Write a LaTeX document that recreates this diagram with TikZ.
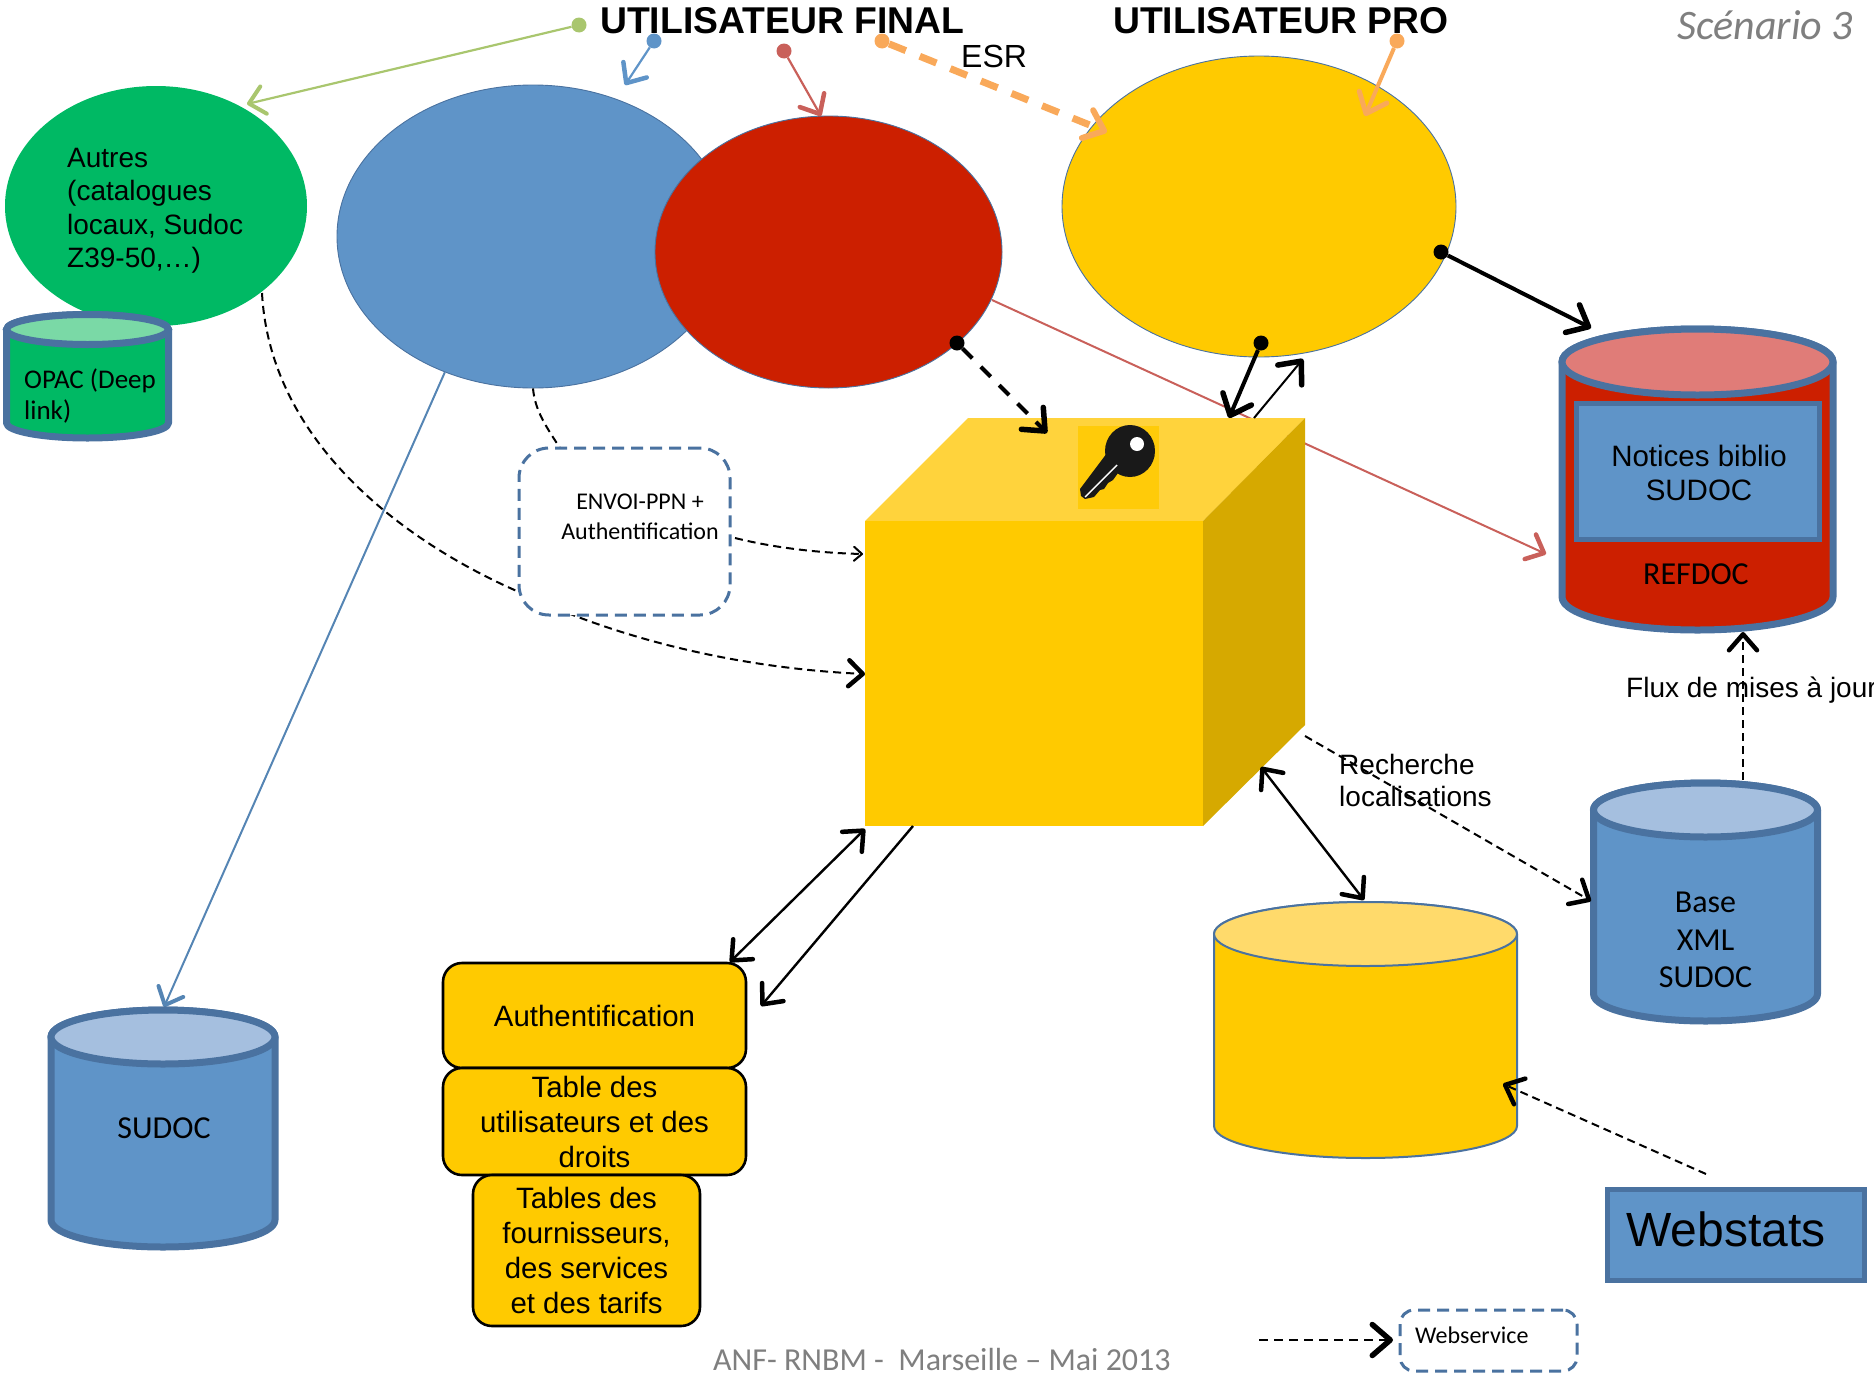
\documentclass[tikz,border=0pt]{standalone}
\usepackage{fontspec}
\setmainfont{Liberation Sans}
\newfontfamily\carl{Carlito}
\usetikzlibrary{arrows.meta,shapes.geometric}
\definecolor{cBlue}{HTML}{5F94C8}
\definecolor{cBlueD}{HTML}{4A72A0}
\definecolor{cBlueL}{HTML}{A5BFDF}
\definecolor{cRed}{HTML}{CC1F00}
\definecolor{cRedL}{HTML}{E07C78}
\definecolor{cLine}{HTML}{C9605A}
\definecolor{cGreen}{HTML}{00B964}
\definecolor{cGreenL}{HTML}{7AD9A6}
\definecolor{cGreenA}{HTML}{A9C66E}
\definecolor{cYel}{HTML}{FFCA00}
\definecolor{cYelL}{HTML}{FFD33C}
\definecolor{cYelT}{HTML}{FFDA6B}
\definecolor{cYelD}{HTML}{D6A900}
\definecolor{cOr}{HTML}{F9A95A}
\definecolor{cGrey}{HTML}{7F7F7F}
\newcommand{\fs}[2]{\fontsize{#1}{#2}\selectfont}
% name, cx, top, bottom, rx, line width, line colour, fill, ry
\newcommand{\dbcyl}[9]{%
  \path[draw=#7,fill=#8,line width=#6pt,line join=round]
    (#2-#5,#3+#9) -- (#2-#5,#4-#9) arc[start angle=180,end angle=0,x radius=#5,y radius=#9]
    -- (#2+#5,#3+#9) arc[start angle=0,end angle=-180,x radius=#5,y radius=#9] -- cycle;
  \node[minimum width=2*#5pt,minimum height=#4pt-#3pt,inner sep=0pt] (#1) at (#2,{(#3+#4)/2}) {};
}
\newcommand{\dbtop}[9]{%
  \path[draw=#7,fill=#8,line width=#6pt] (#2,#3+#9) ellipse[x radius=#5,y radius=#9];
}
\tikzset{
  x=1pt,y=-1pt,
  tipfat/.tip={Straight Barb[length=18pt,width=31pt,line width=5.5pt,round]},
  tipmid/.tip={Straight Barb[length=16pt,width=28pt,line width=4.5pt,round]},
  oval/.style={ellipse,inner sep=0pt,draw=cBlueD,line width=0.9pt},
  dot/.style={circle,inner sep=0pt,minimum size=15pt,fill=#1},
  box/.style={rectangle,inner sep=0pt,line width=2.6pt,draw=black,fill=cYel,rounded corners=19pt,align=center,font=\fs{29.4}{35}},
  dbox/.style={rectangle,inner sep=0pt,line width=3pt,draw=cBlueD,fill=white,dash pattern=on 12pt off 7pt},
  thindash/.style={draw=black,line width=2pt,dash pattern=on 8pt off 5pt},
  lbl/.style={inner sep=0pt,align=left,anchor=west},
  clbl/.style={inner sep=0pt,align=center},
}
\begin{document}
\begin{tikzpicture}
\useasboundingbox (0,0) rectangle (1874,1376);
\clip (0,0) rectangle (1874,1376);
% ---- named free ends
\coordinate (cubeL) at (865,674);
\coordinate (cubeLa) at (863,554);
\coordinate (envoiE) at (735,538);
\coordinate (cubeTopA) at (1229,418);
\coordinate (cubeTopB) at (1254,418);
\coordinate (cubeKey) at (1047,433);
\coordinate (cubeBL) at (865,829);
\coordinate (cubeBB) at (913,826);
\coordinate (cubeBR) at (1261,767);
\coordinate (cubeR) at (1305,736);
\coordinate (authTR) at (730,962);
\coordinate (authR) at (761,1006);
\coordinate (refL) at (1546,554);
\coordinate (refT) at (1591,328);
\coordinate (refB) at (1743,632);
\coordinate (yelC) at (1365,116);
\coordinate (yelA) at (1107,132);
\coordinate (yelB) at (1303,359);
\coordinate (blueT) at (625,85);
\coordinate (redT) at (821,116);
\coordinate (greenT) at (247,104);
\coordinate (cylT) at (1364,900);
\coordinate (cylR) at (1503,1084);
\coordinate (baseL) at (1591,901);
\coordinate (baseT) at (1743,780);
\coordinate (wsTop) at (1706,1174);
\coordinate (legA) at (1259,1340);
\coordinate (legB) at (1393,1340);
\coordinate (sudT) at (164,1007);

% ---- lines lying under the shapes
\node[oval,fill=cGreen,draw=none,minimum width=302pt,minimum height=240pt] (green) at (156,206) {};
\node[oval,fill=cBlue,minimum width=392pt,minimum height=303pt] (blue) at (533,236.5) {};
\draw[cLine,line width=2pt,-{Straight Barb[length=15pt,width=27pt,line width=4.5pt,round]}] (992,300) -- (refL);
\draw[cBlue!90!black,line width=2pt,-{Straight Barb[length=15pt,width=27pt,line width=4pt,round]}] (blue.237) -- (sudT);
\node[oval,fill=cRed,minimum width=347pt,minimum height=272pt] (red) at (828.5,252) {};
\node[oval,fill=cYel,minimum width=394pt,minimum height=301pt] (yellow) at (1259,206.5) {};

% ---- curved dashed connectors
\coordinate (greenS) at (262,293);
\draw[thindash,-{Straight Barb[length=14pt,width=26pt,line width=4.5pt,round]}]
  (greenS) .. controls (270,440) and (400,540) .. (519,592)
  .. controls (620,640) and (740,668) .. (cubeL);
\draw[thindash] (blue.south) .. controls (535,410) and (545,425) .. (560,448);

% ---- cube
\path[fill=cYelL] (865,521) -- (968,418) -- (1305,418) -- (1203,521) -- cycle;
\path[fill=cYelD] (1203,521) -- (1305,418) -- (1305,725) -- (1203,826) -- cycle;
\node[rectangle,inner sep=0pt,fill=cYel,minimum width=338pt,minimum height=305pt] (cube) at (1034,673.5) {};

% ---- key
\path[fill=cYel!85!cYelL] (1078,426) rectangle (1159,509);
\path[fill=black!90] (1107,453) -- (1080,489) -- (1081,496) -- (1085,499) -- (1094,497) -- (1100,490) -- (1104,489) -- (1108,483) -- (1113,480) -- (1118,473) -- cycle;
\path[fill=black!90] (1130,451) ellipse[x radius=25,y radius=26];
\draw[white,line width=1.4pt] (1117,465) -- (1085,497);
\path[fill=white] (1137,444) circle[radius=7];

% ---- cylinders
\dbcyl{opac}{87.5}{314.5}{438}{81}{7}{cBlueD}{cGreen}{15}
\dbtop{opac}{87.5}{314.5}{438}{81}{7}{cBlueD}{cGreenL}{15}
\dbcyl{sudoc}{163}{1010}{1247}{112}{7}{cBlueD}{cBlue}{27}
\dbtop{sudoc}{163}{1010}{1247}{112}{7}{cBlueD}{cBlueL}{27}
\dbcyl{base}{1705.5}{783}{1021}{112}{7}{cBlueD}{cBlue}{27}
\dbtop{base}{1705.5}{783}{1021}{112}{7}{cBlueD}{cBlueL}{27}
\dbcyl{refdoc}{1697.5}{329}{630}{135.5}{7}{cBlueD}{cRed}{33}
\dbtop{refdoc}{1697.5}{329}{630}{135.5}{7}{cBlueD}{cRedL}{33}
\dbcyl{cyl}{1365.5}{902}{1158}{151.5}{2}{cBlueD}{cYel}{32}
\dbtop{cyl}{1365.5}{902}{1158}{151.5}{2}{cBlueD}{cYelT}{32}

\node[rectangle,inner sep=0pt,draw=cBlueD,fill=cBlue,line width=5pt,minimum width=243.5pt,minimum height=136pt] (notices) at (1698,471.5) {};
\node[clbl,font=\fs{29.5}{34}] (noticeslbl) at (1699,473) {Notices biblio\\SUDOC};
\node[clbl,font=\carl\fs{32}{36}] (reflbl) at (1696,574) {REFDOC};

% ---- boxes
\node[box,minimum width=303pt,minimum height=105pt] (auth) at (594.5,1015.5) {\raisebox{-2pt}{Authentification}};
\node[box,minimum width=303pt,minimum height=107pt] (table) at (594.5,1121.5) {Table des\\utilisateurs et des\\droits};
\node[box,minimum width=227pt,minimum height=151pt] (tarifs) at (586.5,1250.5) {Tables des\\fournisseurs,\\des services\\et des tarifs};
\node[dbox,rounded corners=30pt,minimum width=211pt,minimum height=167pt] (envoi) at (624.5,531.5) {};
\node[clbl,font=\carl\fs{24}{30}] (envoilbl) at (640,517) {ENVOI-PPN +\\Authentification};
\node[dbox,rounded corners=14pt,minimum width=177pt,minimum height=61pt] (wsv) at (1488.5,1340.5) {};
\node[lbl,font=\carl\fs{24}{28}] (wsvlbl) at (1415,1335) {Webservice};
\node[rectangle,inner sep=0pt,draw=cBlueD,fill=cBlue,line width=5pt,minimum width=257pt,minimum height=91pt] (webstats) at (1736,1235) {};
\node[lbl,font=\fs{48}{56}] (wslbl) at (1626,1229) {Webstats};

% ---- connectors with dots
\node[dot=cGreenA] (dg) at (579,25) {};
\node[dot=cBlue] (db) at (654,41) {};
\node[dot=cLine] (dr) at (784,51) {};
\node[dot=cOr] (do) at (882,41) {};
\node[dot=cOr] (do2) at (1397,41) {};
\node[dot=black] (dk) at (957,343) {};
\node[dot=black] (dy) at (1261,343) {};
\node[dot=black] (dz) at (1441,252) {};

\draw[cGreenA,line width=2.2pt,-{Straight Barb[length=15pt,width=28pt,line width=4pt,round]}] (dg) -- (greenT);
\draw[cBlue,line width=2.2pt,-{Straight Barb[length=16pt,width=28pt,line width=4.5pt,round]}] (db) -- (blueT);
\draw[cLine,line width=2.2pt,-{Straight Barb[length=16pt,width=28pt,line width=4.5pt,round]}] (dr) -- (redT);
\draw[cOr,line width=7pt,dash pattern=on 18pt off 15pt,-{Straight Barb[length=18pt,width=30pt,line width=6pt,round]}] (do) -- (yelA);
\draw[cOr,line width=4pt,-{Straight Barb[length=18pt,width=30pt,line width=5pt,round]}] (do2) -- (yelC);
\draw[black,line width=4pt,dash pattern=on 14pt off 12pt,-{tipfat}] (dk) -- (cubeKey);
\draw[black,line width=4pt,-{tipfat}] (dy) -- (cubeTopA);
\draw[black,line width=4pt,-{tipfat}] (dz) -- (refT);
\draw[black,line width=2pt,-{tipfat}] (cubeTopB) -- (yelB);

\draw[thindash,-{Straight Barb[length=8pt,width=14pt,line width=2pt,round]}] (envoiE) .. controls (775,548) and (820,553) .. (cubeLa);
\draw[black,line width=2.4pt,{tipmid}-{tipmid}] (authTR) -- (cubeBL);
\draw[black,line width=2.4pt,-{tipmid}] (cubeBB) -- (authR);
\draw[black,line width=2.4pt,{tipmid}-{tipmid}] (cubeBR) -- (cylT);
\draw[thindash,-{tipmid}] (cubeR) -- (baseL);
\draw[thindash,-{tipmid}] (baseT) -- (refB);
\draw[thindash,-{tipmid}] (wsTop) -- (cylR);
\draw[draw=black,line width=2.6pt,dash pattern=on 9pt off 6pt,-{tipfat}] (legA) -- (legB);

% ---- free labels
\node[lbl,font=\bfseries\fs{37.3}{40}] (tFin) at (600,21) {UTILISATEUR FINAL};
\node[lbl,font=\bfseries\fs{37.3}{40}] (tPro) at (1113,21) {UTILISATEUR PRO};
\node[lbl,font=\fs{32}{36}] (tEsr) at (961,56) {ESR};
\node[lbl,font=\carl\itshape\fs{42}{46},text=cGrey] (tSc) at (1677,25) {Scénario 3};
\node[lbl,font=\fs{28}{33.5}] (tAut) at (67,211) {Autres\\(catalogues\\locaux, Sudoc\\Z39-50,…)};
\node[lbl,font=\carl\fs{27}{31}] (tOp) at (24,395.5) {OPAC (Deep\\link)};
\node[lbl,font=\fs{28}{32}] (tFlux) at (1626,690) {Flux de mises à jour};
\node[lbl,font=\fs{28}{32}] (tRec) at (1339,780) {Recherche\\localisations};
\node[clbl,font=\carl\fs{32}{37.5}] (tBase) at (1705.5,940) {Base\\XML\\SUDOC};
\node[clbl,font=\carl\fs{32}{36}] (tSud) at (164,1128) {SUDOC};
\node[lbl,font=\carl\fs{32}{34},text=cGrey] (tFoot) at (713,1359.5) {ANF- RNBM -\ \ Marseille – Mai 2013};
\end{tikzpicture}
\end{document}
